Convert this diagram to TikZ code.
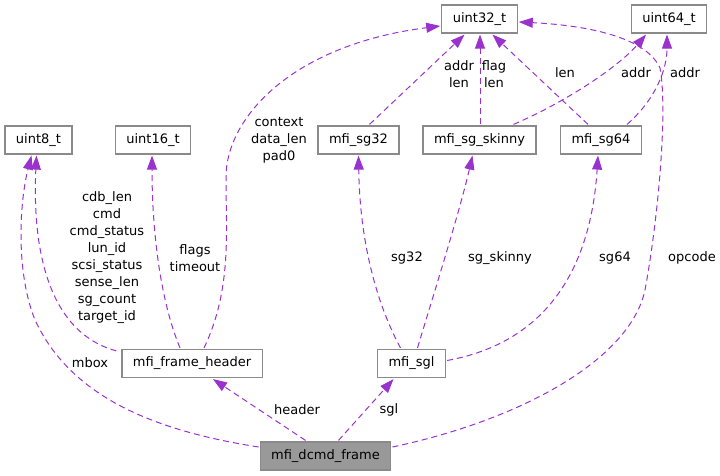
\documentclass[tikz,border=0pt]{standalone}
\usepackage{fontspec}
\setmainfont{DejaVu Sans}
\usetikzlibrary{calc,arrows.meta}

\definecolor{edgepurple}{HTML}{9A32CD}
\definecolor{boxgray}{HTML}{8A8A8A}
\definecolor{dcmdgray}{HTML}{999999}

\begin{document}
\begin{tikzpicture}[x=1pt, y=-1pt, every node/.style={font=\fontsize{13}{17}\selectfont},
  cls/.style={draw=boxgray, fill=white, line width=1.2pt, minimum height=28pt, inner xsep=11pt, inner ysep=0pt},
  uses/.style={draw=edgepurple, line width=1pt, dash pattern=on 6pt off 4pt, -{Triangle[length=14pt,width=10pt]}},
  lbl/.style={align=center, inner sep=0pt}]

\useasboundingbox (0,0) rectangle (720,476);

% --------- Classes / types ----------
\node[cls] (u32)    at (479.5,19)  {uint32\_t};
\node[cls] (u64)    at (669,19)    {uint64\_t};
\node[cls] (u8)     at (38.5,140)  {uint8\_t};
\node[cls] (u16)    at (153,140)   {uint16\_t};
\node[cls] (sg32)   at (358.5,140) {mfi\_sg32};
\node[cls] (skinny) at (479.5,140) {mfi\_sg\_skinny};
\node[cls] (sg64)   at (601,140)   {mfi\_sg64};
\node[cls] (hdr)    at (192,363.5) {mfi\_frame\_header};
\node[cls] (sgl)    at (411.5,363.5) {mfi\_sgl};
\node[cls, fill=dcmdgray] (dcmd) at (325.5,456) {mfi\_dcmd\_frame};

% --------- Members of mfi_dcmd_frame ----------
\draw[uses] ($(dcmd.west)+(-1,-9)$) .. controls (150,430) and (70,395) .. (35,320)
  .. controls (15,270) and (20,200) .. ($(u8.south)+(-7,1)$);
\draw[uses] ($(dcmd.north)+(-20,-1)$) -- ($(hdr.south)+(21,1)$);
\draw[uses] ($(dcmd.north)+(13,-1)$) -- ($(sgl.south)+(-18,1)$);
\draw[uses] ($(dcmd.east)+(1,-9)$) .. controls (520,420) and (630,360) .. (645,290)
  .. controls (658,220) and (668,110) .. (660,68)
  .. controls (645,35) and (580,25) .. ($(u32.east)+(1,3)$);

\node[lbl] (l_mbox)   at (90,363)  {mbox};
\node[lbl] (l_header) at (297,410) {header};
\node[lbl] (l_sgl)    at (389,410) {sgl};
\node[lbl] (l_opcode) at (692,258) {opcode};

% --------- Members of mfi_frame_header ----------
\draw[uses] ($(hdr.north west)+(-5,2)$) .. controls (40,330) and (33,230) .. ($(u8.south)+(-2,1)$);
\draw[uses] ($(hdr.north)+(-12,-1)$) .. controls (160,300) and (152,230) .. ($(u16.south)+(-1,1)$);
\draw[uses] ($(hdr.north)+(12,-1)$) .. controls (232,290) and (226,230) .. (226,180)
  .. controls (224,120) and (290,45) .. ($(u32.west)+(-1,7)$);

\node[lbl] (l_hdr8)  at (107,257.5) {cdb\_len\\cmd\\cmd\_status\\lun\_id\\scsi\_status\\sense\_len\\sg\_count\\target\_id};
\node[lbl] (l_hdr16) at (195,258)   {flags\\timeout};
\node[lbl] (l_hdr32) at (279,140)   {context\\data\_len\\pad0};

% --------- Members of mfi_sgl ----------
\draw[uses] ($(sgl.north)+(-11,-1)$) .. controls (380,310) and (360,250) .. ($(sg32.south)+(0,1)$);
\draw[uses] ($(sgl.north)+(6,-1)$) .. controls (435,290) and (460,210) .. ($(skinny.south)+(-7,1)$);
\draw[uses] ($(sgl.east)+(1,-3)$) .. controls (560,340) and (592,250) .. ($(sg64.south)+(-3,1)$);

\node[lbl] (l_sg32)   at (407,258) {sg32};
\node[lbl] (l_skinny) at (500,258) {sg\_skinny};
\node[lbl] (l_sg64)   at (615,258) {sg64};

% --------- Scatter/gather element fields ----------
\draw[uses] ($(sg32.north)+(11,-1)$) -- ($(u32.south)+(-15,1)$);
\draw[uses] ($(skinny.north)+(0.5,-1)$) -- ($(u32.south)+(0.5,1)$);
\draw[uses] ($(sg64.north)+(-13,-1)$) -- ($(u32.south)+(13,1)$);
\draw[uses] ($(skinny.north)+(34,-1)$) .. controls (570,100) and (620,65) .. ($(u64.south)+(-23,1)$);
\draw[uses] ($(sg64.north)+(26,-1)$) .. controls (655,100) and (667,70) .. ($(u64.south)+(-2,1)$);

\node[lbl] (l_sg32u32)   at (459,74) {addr\\len};
\node[lbl] (l_skinnyu32) at (494,74) {flag\\len};
\node[lbl] (l_sg64u32)   at (565,73) {len};
\node[lbl] (l_skinnyu64) at (636,73) {addr};
\node[lbl] (l_sg64u64)   at (685,73) {addr};

\end{tikzpicture}
\end{document}
